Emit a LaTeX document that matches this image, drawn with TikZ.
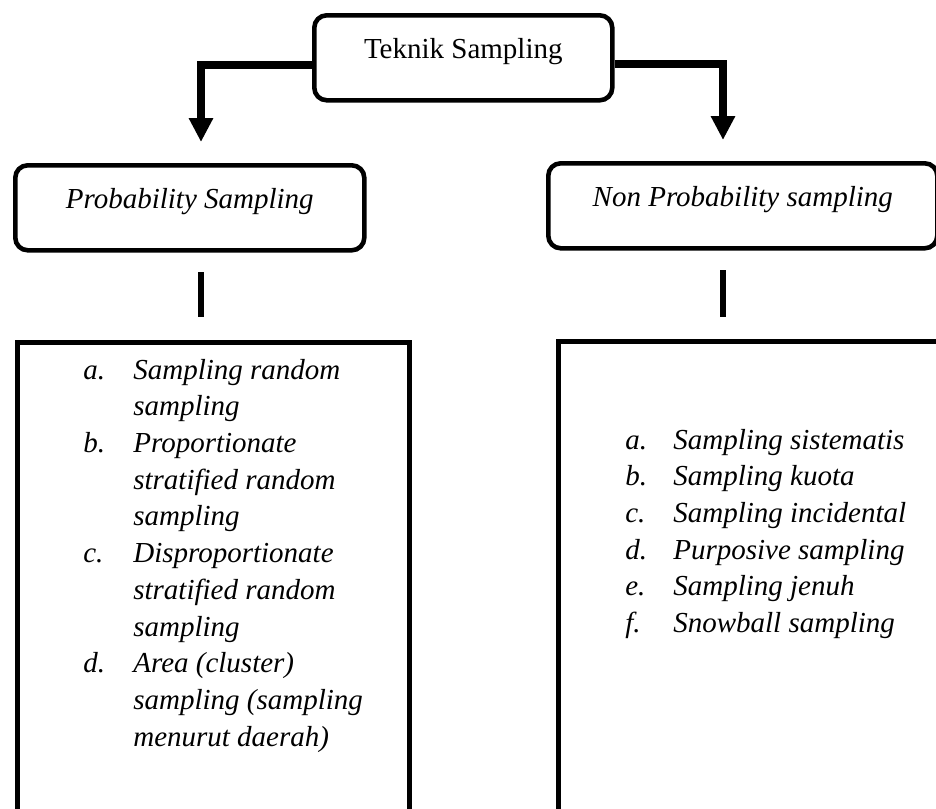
\documentclass[tikz,border=0pt]{standalone}
\usepackage{fontspec}
\setmainfont{Liberation Serif}
\usetikzlibrary{arrows.meta,positioning}
\newcommand\diagfont{\fontsize{16.5}{20.9}\selectfont}

\begin{document}
\begin{tikzpicture}[x=0.2mm, y=-0.2mm,
        box/.style={draw, line width=2.6pt, rounded corners=0.25cm, inner sep=0pt,
            text height=0.87cm, text depth=0.83cm, anchor=north west, font=\diagfont},
        listbox/.style={draw, line width=2.6pt, inner sep=0pt, anchor=north west},
        items/.style={inner sep=0pt, anchor=base west, font=\diagfont\itshape},
        conn/.style={line width=4.5pt, -{Triangle[width=0.46cm,length=0.48cm]}},
        bar/.style={line width=3.4pt}]
    \useasboundingbox (0,0) rectangle (936,809);
    \clip (0,0) rectangle (936,809);

    \node[box, minimum width=5.96cm] (teknik) at (312,13) {Teknik Sampling};
    \node[box, minimum width=6.98cm, font=\diagfont\itshape] (prob) at (13,163) {Probability Sampling};
    \node[box, minimum width=7.78cm, font=\diagfont\itshape] (nonprob) at (546,161) {Non Probability sampling};

    \coordinate (lcorner) at (201,65);
    \coordinate (ltip) at (201,142);
    \coordinate (rcorner) at (723,64);
    \coordinate (rtip) at (723,140);
    \draw[conn] (teknik.west |- lcorner) -- (lcorner) -- (ltip);
    \draw[conn] (teknik.east |- rcorner) -- (rcorner) -- (rtip);

    \coordinate (lbartop) at (201,272);
    \coordinate (lbarbot) at (201,317);
    \coordinate (rbartop) at (723,270);
    \coordinate (rbarbot) at (723,317);
    \draw[bar] (lbartop) -- (lbarbot);
    \draw[bar] (rbartop) -- (rbarbot);

    \node[listbox, minimum width=7.84cm, minimum height=9.6cm] (probbox) at (15,340) {};
    \node[listbox, minimum width=7.78cm, minimum height=9.42cm] (nonprobbox) at (556,339) {};

    \node[items] (probitems) at (83,379) {\begin{tabular}[t]{@{}p{1cm}@{}l@{}}
        a. & Sampling random\\
           & sampling\\
        b. & Proportionate\\
           & stratified random\\
           & sampling\\
        c. & Disproportionate\\
           & stratified random\\
           & sampling\\
        d. & Area (cluster)\\
           & sampling (sampling\\
           & menurut daerah)
    \end{tabular}};
    \node[items] (nonprobitems) at (625,449) {\begin{tabular}[t]{@{}p{0.96cm}@{}l@{}}
        a. & Sampling sistematis\\
        b. & Sampling kuota\\
        c. & Sampling incidental\\
        d. & Purposive sampling\\
        e. & Sampling jenuh\\
        f. & Snowball sampling
    \end{tabular}};
\end{tikzpicture}
\end{document}
